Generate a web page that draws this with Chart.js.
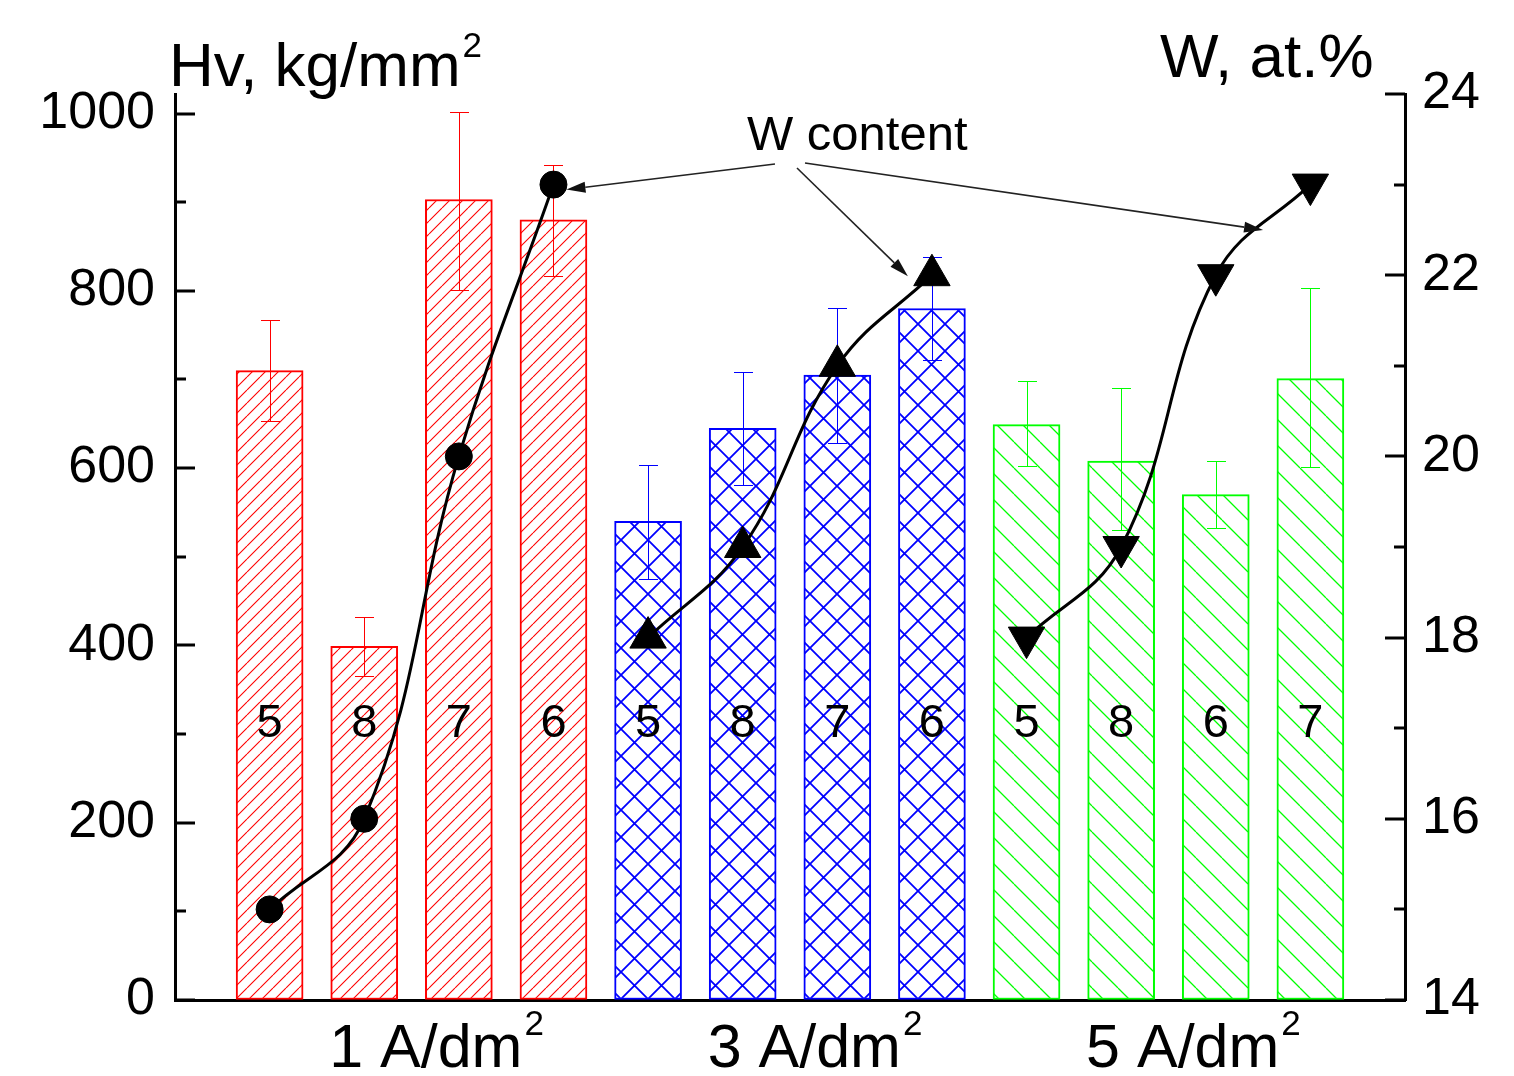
<!DOCTYPE html>
<html><head><meta charset="utf-8">
<script src="https://cdn.jsdelivr.net/npm/chart.js@4.4.1/dist/chart.umd.min.js"></script>
<style>html,body{margin:0;padding:0;background:#fff}canvas{display:block}</style>
</head><body>
<canvas id="c" width="1514" height="1076"></canvas>
<script>
// ---- data ----
const barPositions = [1,2,3,4,5,6,7,8,9,10,11,12];
const barGroup = [0,0,0,0,1,1,1,1,2,2,2,2];
const hardness = [710,399,903,880, 540,645,705,780, 649,608,570,701];
const hardnessErrHigh = [767,432,1002,942, 604,708,781,838, 698,690,608,803];
const hardnessErrLow  = [653,365,801,817, 475,581,628,722, 602,530,532,601];
const sampleLabels = ['5','8','7','6','5','8','7','6','5','8','6','7'];
const groupNames = ['1 A/dm','3 A/dm','5 A/dm'];
const wContent1 = [15,16,20,23];
const wContent3 = [18,19,21,22];
const wContent5 = [18,19,22,23];
const hvTicks = [0,200,400,600,800,1000];
const wTicks = [14,16,18,20,22,24];

// ---- styles ----
const FONT = '"Liberation Sans", Arial, sans-serif';
const groupColors = ['#ff0000','#0000ff','#00ff00'];
const canvas = document.getElementById('c');
const ctx = canvas.getContext('2d');

function hatch(color, size, lw, dirs) {
  const c = document.createElement('canvas');
  c.width = size; c.height = size;
  const g = c.getContext('2d');
  g.fillStyle = '#ffffff';
  g.fillRect(0, 0, size, size);
  g.strokeStyle = color; g.lineWidth = lw;
  g.beginPath();
  for (let k = -1; k <= 1; k++) {
    if (dirs.includes('/')) { g.moveTo(k*size, size); g.lineTo(k*size+size, 0); }
    if (dirs.includes('\\')) { g.moveTo(k*size, 0); g.lineTo(k*size+size, size); }
  }
  g.stroke();
  return ctx.createPattern(c, 'repeat');
}
const groupPatterns = [
  hatch('#ff0000', 13, 1.1, '/'),
  hatch('#0000ff', 27, 1.8, '/\\'),
  hatch('#00ff00', 26, 1.3, '\\')
];

function pts(vals, offset) {
  return vals.map((v,i) => ({x: barPositions[offset+i], y: v}));
}

const lineCommon = {
  type: 'line', yAxisID: 'yW', borderColor: '#000', backgroundColor: '#000',
  pointBackgroundColor: '#000', pointBorderColor: '#000', pointBorderWidth: 1,
  borderWidth: 3, tension: 0.4, order: 1, clip: false
};

const overlay = {
  id: 'overlay',
  afterDatasetDraw(chart, args) {
    if (args.meta.type !== 'bar') return;
    const c = chart.ctx, x = chart.scales.x, y = chart.scales.y;
    c.save();
    hardness.forEach((v,i) => {
      const px = Math.round(x.getPixelForValue(barPositions[i]));
      const hi = Math.round(y.getPixelForValue(hardnessErrHigh[i]));
      const lo = Math.round(y.getPixelForValue(hardnessErrLow[i]));
      c.strokeStyle = groupColors[barGroup[i]];
      c.lineWidth = 1;
      c.beginPath();
      c.moveTo(px+0.5, hi); c.lineTo(px+0.5, lo);
      c.moveTo(px-9, hi+0.5); c.lineTo(px+10, hi+0.5);
      c.moveTo(px-9, lo+0.5); c.lineTo(px+10, lo+0.5);
      c.stroke();
    });
    c.fillStyle = '#000';
    c.font = '47px ' + FONT;
    c.textAlign = 'center';
    c.textBaseline = 'alphabetic';
    const ny = y.getPixelForValue(297);
    sampleLabels.forEach((t,i) => {
      c.fillText(t, x.getPixelForValue(barPositions[i]), ny);
    });
    c.restore();
  },
  afterDraw(chart) {
    const c = chart.ctx, x = chart.scales.x, y = chart.scales.y, yW = chart.scales.yW;
    const area = chart.chartArea;
    c.save();
    // inward tick marks
    c.strokeStyle = '#000'; c.lineWidth = 3;
    c.beginPath();
    for (let v = 0; v <= 1000; v += 100) {
      const py = Math.round(y.getPixelForValue(v));
      const len = hvTicks.includes(v) ? 20 : 11;
      c.moveTo(area.left, py); c.lineTo(area.left + len, py);
    }
    for (let v = 14; v <= 24; v += 1) {
      const py = Math.round(yW.getPixelForValue(v));
      const len = wTicks.includes(v) ? 20 : 11;
      c.moveTo(area.right, py); c.lineTo(area.right - len, py);
    }
    c.stroke();

    c.fillStyle = '#000';
    c.textBaseline = 'alphabetic';
    c.textAlign = 'left';
    // axis titles
    c.font = '62px ' + FONT;
    c.fillText('Hv, kg/mm', 169, 86);
    const wHv = c.measureText('Hv, kg/mm').width;
    c.font = '35px ' + FONT;
    c.fillText('2', 169 + wHv + 2, 57);
    c.font = '62px ' + FONT;
    c.fillText('W, at.%', 1160, 77);

    // group labels
    for (let gi = 0; gi < groupNames.length; gi++) {
      const idx = barGroup.map((g,i)=>g===gi?i:-1).filter(i=>i>=0);
      const cx = idx.reduce((s,i)=>s + x.getPixelForValue(barPositions[i]), 0) / idx.length + 25;
      c.font = '61px ' + FONT;
      const w1 = c.measureText(groupNames[gi]).width;
      c.font = '35px ' + FONT;
      const w2 = c.measureText('2').width;
      const left = cx - (w1 + 2 + w2) / 2;
      c.font = '61px ' + FONT;
      c.fillText(groupNames[gi], left, 1067);
      c.font = '35px ' + FONT;
      c.fillText('2', left + w1 + 2, 1035);
    }

    // annotation
    c.font = '49px ' + FONT;
    c.fillText('W content', 747, 150);
    const m1 = chart.getDatasetMeta(0).data[3];
    const m2 = chart.getDatasetMeta(1).data[3];
    const m3a = chart.getDatasetMeta(2).data[2];
    const m3b = chart.getDatasetMeta(2).data[3];
    const arrows = [
      [775, 164, m1.x + 13, m1.y + 5],
      [797, 168, m2.x - 24, m2.y + 1],
      [805, 163, (m3a.x + m3b.x)/2, (m3a.y + m3b.y)/2]
    ];
    c.strokeStyle = '#222'; c.fillStyle = '#111'; c.lineWidth = 1.6;
    arrows.forEach(([x0,y0,x1,y1]) => {
      const a = Math.atan2(y1-y0, x1-x0);
      const L = 19, H = 5.5;
      const bx = x1 - L*Math.cos(a), by = y1 - L*Math.sin(a);
      c.beginPath(); c.moveTo(x0,y0); c.lineTo(bx,by); c.stroke();
      c.beginPath();
      c.moveTo(x1,y1);
      c.lineTo(bx + H*Math.sin(a), by - H*Math.cos(a));
      c.lineTo(bx - H*Math.sin(a), by + H*Math.cos(a));
      c.closePath(); c.fill();
    });
    c.restore();
  }
};

new Chart(ctx, {
  type: 'bar',
  data: {
    datasets: [
      Object.assign({}, lineCommon, {label: 'W 1 A/dm2', data: pts(wContent1, 0), pointStyle: 'circle', pointRadius: 13.5}),
      Object.assign({}, lineCommon, {label: 'W 3 A/dm2', data: pts(wContent3, 4), pointStyle: 'triangle', pointRadius: 21, pointRotation: 0}),
      Object.assign({}, lineCommon, {label: 'W 5 A/dm2', data: pts(wContent5, 8), pointStyle: 'triangle', pointRadius: 21, pointRotation: 180}),
      {
        type: 'bar', label: 'Hv', yAxisID: 'y', order: 2,
        data: pts(hardness, 0),
        backgroundColor: barGroup.map(g => groupPatterns[g]),
        borderColor: barGroup.map(g => groupColors[g]),
        borderWidth: 2, barThickness: 67, borderSkipped: false
      }
    ]
  },
  options: {
    responsive: false, animation: false, devicePixelRatio: 1,
    layout: {padding: {top: 94, left: 0, right: 0, bottom: 0}},
    plugins: {legend: {display: false}, tooltip: {enabled: false}},
    scales: {
      x: {
        type: 'linear', min: 0, max: 13, position: 'bottom', offset: false,
        ticks: {display: false},
        grid: {display: true, offset: false, drawOnChartArea: false, drawTicks: false},
        border: {display: true, color: '#000', width: 3},
        afterFit(s) { s.height = 76; }
      },
      y: {
        type: 'linear', position: 'left', min: 0, max: 1022,
        afterBuildTicks(s) { s.ticks = hvTicks.map(v => ({value: v})); },
        ticks: {autoSkip: false, color: '#000', padding: 20,
          font: {family: FONT, size: 52},
          callback: v => String(v)},
        grid: {display: true, drawOnChartArea: false, drawTicks: false},
        border: {display: true, color: '#000', width: 3},
        afterFit(s) { s.width = 175; }
      },
      yW: {
        type: 'linear', position: 'right', min: 14, max: 24,
        afterBuildTicks(s) { s.ticks = wTicks.map(v => ({value: v})); },
        ticks: {autoSkip: false, color: '#000', padding: 17,
          font: {family: FONT, size: 52},
          callback: v => String(v)},
        grid: {display: true, drawOnChartArea: false, drawTicks: false},
        border: {display: true, color: '#000', width: 3},
        afterFit(s) { s.width = 109; }
      }
    }
  },
  plugins: [overlay]
});
</script>
</body></html>
